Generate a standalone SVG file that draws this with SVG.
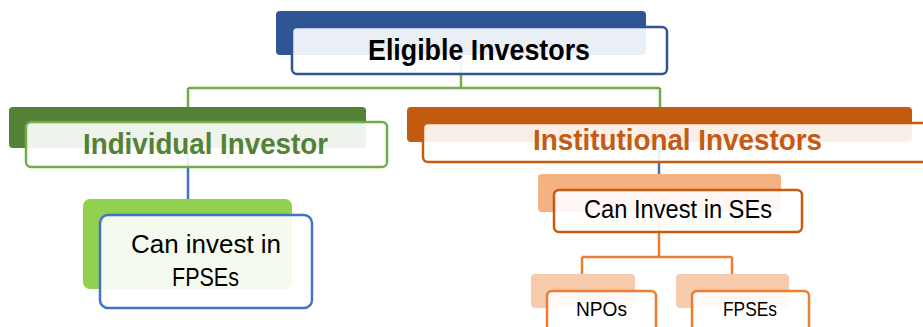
<svg xmlns="http://www.w3.org/2000/svg" width="923" height="327" viewBox="0 0 923 327">
<style>
.front{fill:#ffffff;fill-opacity:0.9;stroke-width:2.5}
.t{font-family:"Liberation Sans",Arial,sans-serif;text-anchor:middle}
.b{font-weight:bold}
.conn{fill:none;stroke-width:2.5}
</style>
<rect width="923" height="327" fill="#ffffff"/>
<g id="connectors">
<path class="conn" stroke="#70ad47" d="M461,60 V88 M188,88 H660 M188,88 V107 M660,88 V107"/>
<path class="conn" stroke="#4472c4" d="M188,150 V199 M659,145 V174"/>
<path class="conn" stroke="#ed7d31" d="M659,212 V257 M582,257 H732 M582,257 V274 M732,257 V274"/>
</g>
<g id="eligible">
<rect x="276" y="11" width="370" height="44" rx="4" fill="#2f5597"/>
<rect class="front" x="292" y="27" width="375" height="47" rx="5" stroke="#2f5597"/>
<text class="t b" x="479" y="60" font-size="30" textLength="222" lengthAdjust="spacingAndGlyphs" fill="#000000">Eligible Investors</text>
</g>
<g id="individual">
<rect x="9" y="107" width="357" height="41" rx="4" fill="#548235"/>
<rect class="front" x="26" y="122" width="361" height="45" rx="5" stroke="#70ad47"/>
<text class="t b" x="205.5" y="154" font-size="29" textLength="245" lengthAdjust="spacingAndGlyphs" fill="#548235">Individual Investor</text>
</g>
<g id="institutional">
<rect x="407" y="107" width="505" height="35" rx="4" fill="#c55a11"/>
<rect class="front" x="423" y="123" width="520" height="39" rx="5" stroke="#c55a11"/>
<text class="t b" x="677.5" y="150" font-size="29" textLength="289" lengthAdjust="spacingAndGlyphs" fill="#c55a11">Institutional Investors</text>
</g>
<g id="can-invest-fpses">
<rect x="83" y="199" width="209" height="90" rx="7" fill="#92d050"/>
<rect class="front" x="100" y="215" width="212" height="93" rx="8" stroke="#4472c4"/>
<text class="t" x="206" y="253" font-size="25" textLength="150" lengthAdjust="spacingAndGlyphs" fill="#000000">Can invest in</text>
<text class="t" x="205.5" y="286" font-size="25" textLength="67" lengthAdjust="spacingAndGlyphs" fill="#000000">FPSEs</text>
</g>
<g id="can-invest-ses">
<rect x="538" y="174" width="243" height="38" rx="4" fill="#f4b183"/>
<rect class="front" x="554" y="190" width="248" height="42" rx="5" stroke="#c55a11"/>
<text class="t" x="678" y="218" font-size="25" textLength="188" lengthAdjust="spacingAndGlyphs" fill="#000000">Can Invest in SEs</text>
</g>
<g id="npos">
<rect x="531" y="274" width="104" height="34" rx="4" fill="#f8cbad"/>
<rect class="front" x="547" y="291" width="109" height="45" rx="5" stroke="#ed7d31"/>
<text class="t" x="601.5" y="316" font-size="21" textLength="51" lengthAdjust="spacingAndGlyphs" fill="#000000">NPOs</text>
</g>
<g id="fpses">
<rect x="676" y="274" width="113" height="34" rx="4" fill="#f8cbad"/>
<rect class="front" x="692" y="291" width="117" height="45" rx="5" stroke="#ed7d31"/>
<text class="t" x="750" y="316" font-size="21" textLength="54" lengthAdjust="spacingAndGlyphs" fill="#000000">FPSEs</text>
</g>
</svg>
